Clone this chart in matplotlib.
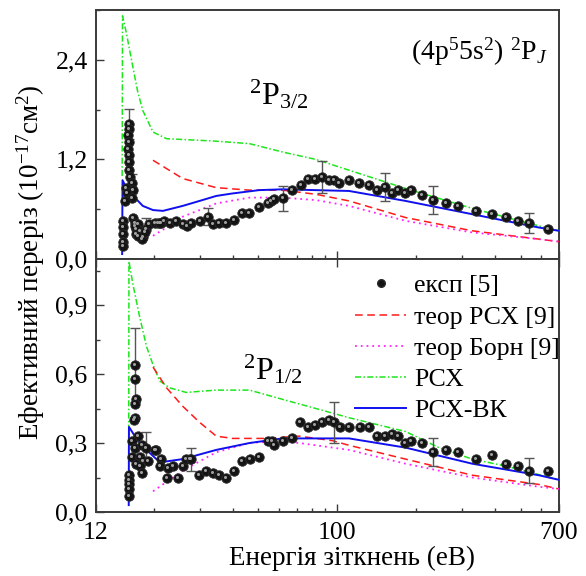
import matplotlib
matplotlib.use('Agg')
import matplotlib.pyplot as plt
from matplotlib.ticker import FixedLocator, FuncFormatter, NullFormatter
from matplotlib.transforms import ScaledTranslation
from matplotlib.lines import Line2D

plt.rcParams['font.family'] = ['Liberation Serif', 'DejaVu Serif']
plt.rcParams['mathtext.fontset'] = 'custom'
plt.rcParams['mathtext.rm'] = 'Liberation Serif'
plt.rcParams['mathtext.it'] = 'Liberation Serif:italic'

# ---------------- 2P3/2 (upper panel) ----------------
e_rsh_32 = [15.1, 15.15, 15.7, 16.6, 17.3, 18.1, 19.8, 22.3, 29.8, 34.5, 46.2, 61.7, 82.8, 110.8, 182, 327, 586, 700]
s_rsh_32 = [1.0, 2.93, 2.71, 2.31, 2.02, 1.79, 1.53, 1.45, 1.43, 1.42, 1.39, 1.29, 1.20, 1.07, 0.85, 0.61, 0.40, 0.34]

e_vk_32 = [15.1, 15.15, 15.7, 17.0, 18.1, 19.8, 21.6, 25.7, 29.8, 34.5, 39.8, 50.3, 61.7, 82.8, 110.8, 182, 327, 586, 700]
s_vk_32 = [0.06, 0.95, 0.85, 0.73, 0.64, 0.59, 0.58, 0.64, 0.70, 0.76, 0.79, 0.83, 0.84, 0.83, 0.82, 0.70, 0.54, 0.38, 0.34]

e_tr_32 = [19.8, 25.7, 34.5, 46.2, 61.7, 82.8, 110.8, 182, 327, 586, 700]
s_tr_32 = [1.19, 0.97, 0.86, 0.83, 0.83, 0.78, 0.70, 0.50, 0.34, 0.24, 0.21]

e_tb_32 = [19.8, 22.3, 25.7, 34.5, 46.2, 61.7, 82.8, 110.8, 182, 327, 586, 700]
s_tb_32 = [0.28, 0.38, 0.51, 0.67, 0.74, 0.74, 0.71, 0.64, 0.46, 0.32, 0.24, 0.21]

e_exp_32 = [15.24, 15.24, 15.24, 15.24, 15.2,
            16.0, 16.0, 15.9, 16.0, 15.9, 16.0, 16.0, 16.1, 16.2, 16.4, 15.6, 16.6, 15.7, 16.5, 15.5,
            16.6, 16.85, 17.3, 17.1, 17.6, 18.1, 18.7, 19.2, 20.1, 20.7, 21.3, 21.9,
            17.0, 17.9, 17.3, 18.4, 16.9,
            21.0, 22.9, 24.3, 25.7, 26.6, 27.6, 29.8, 32.0, 33.4, 35.5, 37.6, 40.4, 43.4, 46.2,
            50.3, 54.2, 55.9, 57.3, 62.1, 67.3, 72.6, 77.0, 82.1, 87.3, 92.6, 97.1, 101.5, 110.8,
            121.1, 131.5, 142.2, 152.0, 161.2, 170.8, 181.1, 190.2, 210.6, 231.4, 260, 288.9,
            338.5, 389.3, 440, 488.8, 536.8, 635.8]
s_exp_32 = [0.46, 0.38, 0.30, 0.20, 0.16,
            1.63, 1.57, 1.49, 1.41, 1.33, 1.25, 1.17, 1.07, 0.99, 0.91, 0.86, 0.83, 0.79, 0.73, 0.70,
            0.50, 0.44, 0.42, 0.36, 0.34, 0.26, 0.36, 0.42, 0.44, 0.43, 0.44, 0.46,
            0.30, 0.24, 0.28, 0.32, 0.40,
            0.44, 0.44, 0.46, 0.42, 0.40, 0.44, 0.46, 0.51, 0.42, 0.44, 0.44, 0.47, 0.55, 0.56,
            0.63, 0.68, 0.70, 0.72, 0.73, 0.83, 0.89, 0.97, 0.97, 0.99, 0.95, 0.95, 0.91, 0.95,
            0.92, 0.89, 0.83, 0.87, 0.80, 0.83, 0.80, 0.83, 0.77, 0.71, 0.68, 0.64,
            0.58, 0.54, 0.51, 0.46, 0.43, 0.36]

err_e_32 = [15.24, 16.0, 16.4, 18.7, 32.0, 62.1, 87.3, 152.0, 231.4, 536.8]
err_s_32 = [0.30, 1.63, 0.91, 0.42, 0.51, 0.73, 0.99, 0.87, 0.71, 0.43]
err_d_32 = [0.15, 0.18, 0.12, 0.08, 0.10, 0.15, 0.19, 0.17, 0.17, 0.12]

# ---------------- 2P1/2 (lower panel) ----------------
e_rsh_12 = [16.0, 16.03, 16.6, 17.6, 18.7, 19.8, 21.0, 22.9, 26.5, 34.5, 46.2, 61.7, 82.8, 110.8, 182, 244, 327, 438, 700]
s_rsh_12 = [0.30, 1.09, 0.99, 0.85, 0.72, 0.64, 0.57, 0.54, 0.52, 0.53, 0.53, 0.49, 0.45, 0.41, 0.35, 0.28, 0.23, 0.20, 0.14]

e_vk_12 = [16.0, 16.03, 17.1, 18.7, 20.4, 22.3, 25.7, 34.5, 46.2, 61.7, 82.8, 110.8, 182, 327, 586, 700]
s_vk_12 = [0.03, 0.37, 0.32, 0.27, 0.23, 0.22, 0.23, 0.27, 0.30, 0.32, 0.32, 0.32, 0.28, 0.21, 0.16, 0.14]

e_tr_12 = [19.8, 22.3, 25.7, 29.8, 34.5, 39.8, 53.5, 71.5, 95.9, 110.8, 182, 327, 586, 700]
s_tr_12 = [0.63, 0.54, 0.46, 0.39, 0.33, 0.32, 0.32, 0.33, 0.31, 0.29, 0.23, 0.16, 0.12, 0.10]

e_tb_12 = [19.8, 25.7, 34.5, 46.2, 61.7, 82.8, 110.8, 182, 327, 586, 700]
s_tb_12 = [0.09, 0.18, 0.26, 0.30, 0.31, 0.29, 0.27, 0.21, 0.15, 0.11, 0.10]

e_exp_12 = [16.85, 16.85, 17.0, 16.9, 16.85, 16.7, 17.3, 16.5, 16.85, 17.9, 18.7, 20.3,
            16.5, 17.6, 18.1, 19.0, 17.1, 17.6, 17.9, 16.1, 16.1, 16.1, 16.1, 16.0,
            21.3, 21.1, 22.3, 23.6, 24.6, 25.7, 27.3, 20.1, 22.6, 26.5, 27.6,
            29.6, 31.6, 33.4, 35.5, 37.6, 40.4, 43.4, 46.5, 50.3, 54.2, 56.4, 57.3, 62.2, 67.3,
            72.1, 77.0, 82.1, 87.3, 92.6, 97.1, 102.1, 110.8, 121.8, 131.5, 142.2, 152.0,
            161.2, 170.8, 181.1, 190.2, 210.6, 231.4, 260, 288.9, 338.5, 389.3, 440, 488.8,
            536.8, 635.8]
s_exp_12 = [0.64, 0.58, 0.49, 0.47, 0.41, 0.40, 0.33, 0.31, 0.28, 0.29, 0.28, 0.27,
            0.24, 0.24, 0.22, 0.22, 0.21, 0.20, 0.17, 0.16, 0.14, 0.12, 0.10, 0.07,
            0.23, 0.20, 0.15, 0.20, 0.15, 0.20, 0.23, 0.27, 0.19, 0.23, 0.23,
            0.16, 0.18, 0.17, 0.16, 0.15, 0.18, 0.22, 0.23, 0.24, 0.31, 0.31, 0.29, 0.31, 0.32,
            0.39, 0.37, 0.38, 0.39, 0.40, 0.39, 0.37, 0.37, 0.37, 0.37, 0.33, 0.33,
            0.34, 0.33, 0.30, 0.31, 0.30, 0.26, 0.27, 0.26, 0.23, 0.25, 0.21, 0.20,
            0.18, 0.18]

err_e_12 = [16.85, 18.7, 27.6, 97.1, 231.4, 536.8]
err_s_12 = [0.64, 0.28, 0.23, 0.39, 0.26, 0.18]
err_d_12 = [0.16, 0.07, 0.05, 0.09, 0.06, 0.055]

x_major = [12, 100, 700]
x_minor = [20, 30, 40, 50, 60, 70, 80, 90, 200, 300, 400, 500, 600]

legend_labels = ['експ [5]', 'теор РСХ [9]', 'теор Борн [9]', 'РСХ', 'РСХ-ВК']

GREEN = '#1ee61e'
RED = '#ff1a1a'
MAGENTA = '#ff22ff'
BLUE = '#1010ee'
FRAME = '#3a3a3a'

fig = plt.figure(figsize=(5.86, 5.76), dpi=100)
ax_top = fig.add_axes([0.1638, 0.5503, 0.790, 0.4323])
ax_bot = fig.add_axes([0.1638, 0.1111, 0.790, 0.4392])

comma = FuncFormatter(lambda v, p: ('%.1f' % v).replace('.', ','))


def draw_panel(ax, er, sr, ev, sv, et, st, eb, sb, ex, sx, ee, se, de):
    ax.plot(er, sr, color=GREEN, lw=1.1, dashes=(4, 1.5, 1, 1.5), zorder=3)
    ax.plot(et, st, color=RED, lw=1.1, dashes=(5, 3), zorder=3)
    ax.plot(eb, sb, color=MAGENTA, lw=1.3, dashes=(1, 2.2), zorder=3)
    ax.plot(ev, sv, color=BLUE, lw=1.4, zorder=4)
    ax.errorbar(ee, se, yerr=de, fmt='none', ecolor='#555555', elinewidth=1.0,
                capsize=3.5, capthick=1.0, zorder=5)
    ax.plot(ex, sx, 'o', ms=6.8, mfc='#141414', mec='#2a2a2a', mew=0.6, zorder=6)
    hl = ax.transData + ScaledTranslation(-1.0 / 100, 1.0 / 100, fig.dpi_scale_trans)
    ax.plot(ex, sx, 'o', ms=2.2, mfc='#a0a0a0', mec='none', transform=hl, zorder=7)

    ax.set_xscale('log')
    ax.set_xlim(12, 700)
    ax.xaxis.set_major_locator(FixedLocator(x_major))
    ax.xaxis.set_minor_locator(FixedLocator(x_minor))
    ax.xaxis.set_major_formatter(FuncFormatter(lambda v, p: '%d' % round(v)))
    ax.xaxis.set_minor_formatter(NullFormatter())
    ax.yaxis.set_major_formatter(comma)
    ax.tick_params(which='both', direction='in', color=FRAME, labelsize=18.5,
                   right=False, width=1.0)
    ax.tick_params(which='major', length=6)
    ax.tick_params(which='minor', length=3.2)
    ax.tick_params(axis='y', pad=6)
    for sp in ax.spines.values():
        sp.set_color(FRAME)
        sp.set_linewidth(1.4)


draw_panel(ax_top, e_rsh_32, s_rsh_32, e_vk_32, s_vk_32, e_tr_32, s_tr_32, e_tb_32, s_tb_32,
           e_exp_32, s_exp_32, err_e_32, err_s_32, err_d_32)
draw_panel(ax_bot, e_rsh_12, s_rsh_12, e_vk_12, s_vk_12, e_tr_12, s_tr_12, e_tb_12, s_tb_12,
           e_exp_12, s_exp_12, err_e_12, err_s_12, err_d_12)

ax_top.set_ylim(0, 3.0)
ax_top.yaxis.set_major_locator(FixedLocator([0.0, 1.2, 2.4]))
ax_top.yaxis.set_minor_locator(FixedLocator([0.6, 1.8, 3.0]))
ax_top.tick_params(axis='x', top=False, bottom=True, labelbottom=False)

ax_bot.set_ylim(0, 1.1)
ax_bot.yaxis.set_major_locator(FixedLocator([0.0, 0.3, 0.6, 0.9]))
ax_bot.yaxis.set_minor_locator(FixedLocator([0.15, 0.45, 0.75, 1.05]))
ax_bot.tick_params(axis='x', top=True, bottom=True, labelbottom=True, pad=7)

ax_top.text(0.33, 0.62, r'$^{2}\mathrm{P}_{3/2}$', transform=ax_top.transAxes, fontsize=23)
ax_bot.text(0.318, 0.525, r'$^{2}\mathrm{P}_{1/2}$', transform=ax_bot.transAxes, fontsize=23)
ax_top.text(0.975, 0.80, r'(4p$^{5}$5s$^{2}$) $^{2}\mathrm{P}_{\mathit{J}}$', transform=ax_top.transAxes,
            fontsize=20, ha='right')

handles = [
    Line2D([], [], ls='none', marker='o', ms=5.5, mfc='#141414', mec='#2a2a2a'),
    Line2D([], [], color=RED, lw=1.1, dashes=(5, 3)),
    Line2D([], [], color=MAGENTA, lw=1.3, dashes=(1, 2.2)),
    Line2D([], [], color=GREEN, lw=1.1, dashes=(4, 1.5, 1, 1.5)),
    Line2D([], [], color=BLUE, lw=1.4),
]
ax_bot.legend(handles, legend_labels, loc='upper right', bbox_to_anchor=(1.035, 1.0),
              frameon=False, fontsize=18.5, handlelength=2.0, handletextpad=0.3,
              labelspacing=0.32, numpoints=1, borderaxespad=0.2)

fig.text(0.052, 0.545, r'Ефективний переріз (10$^{-17}$см$^{2}$)', rotation=90,
         ha='center', va='center', fontsize=19.5)
fig.text(0.60, 0.03, 'Енергія зіткнень (еВ)', ha='center', va='center', fontsize=19.5)

fig.savefig('out.png', dpi=100, facecolor='white')
